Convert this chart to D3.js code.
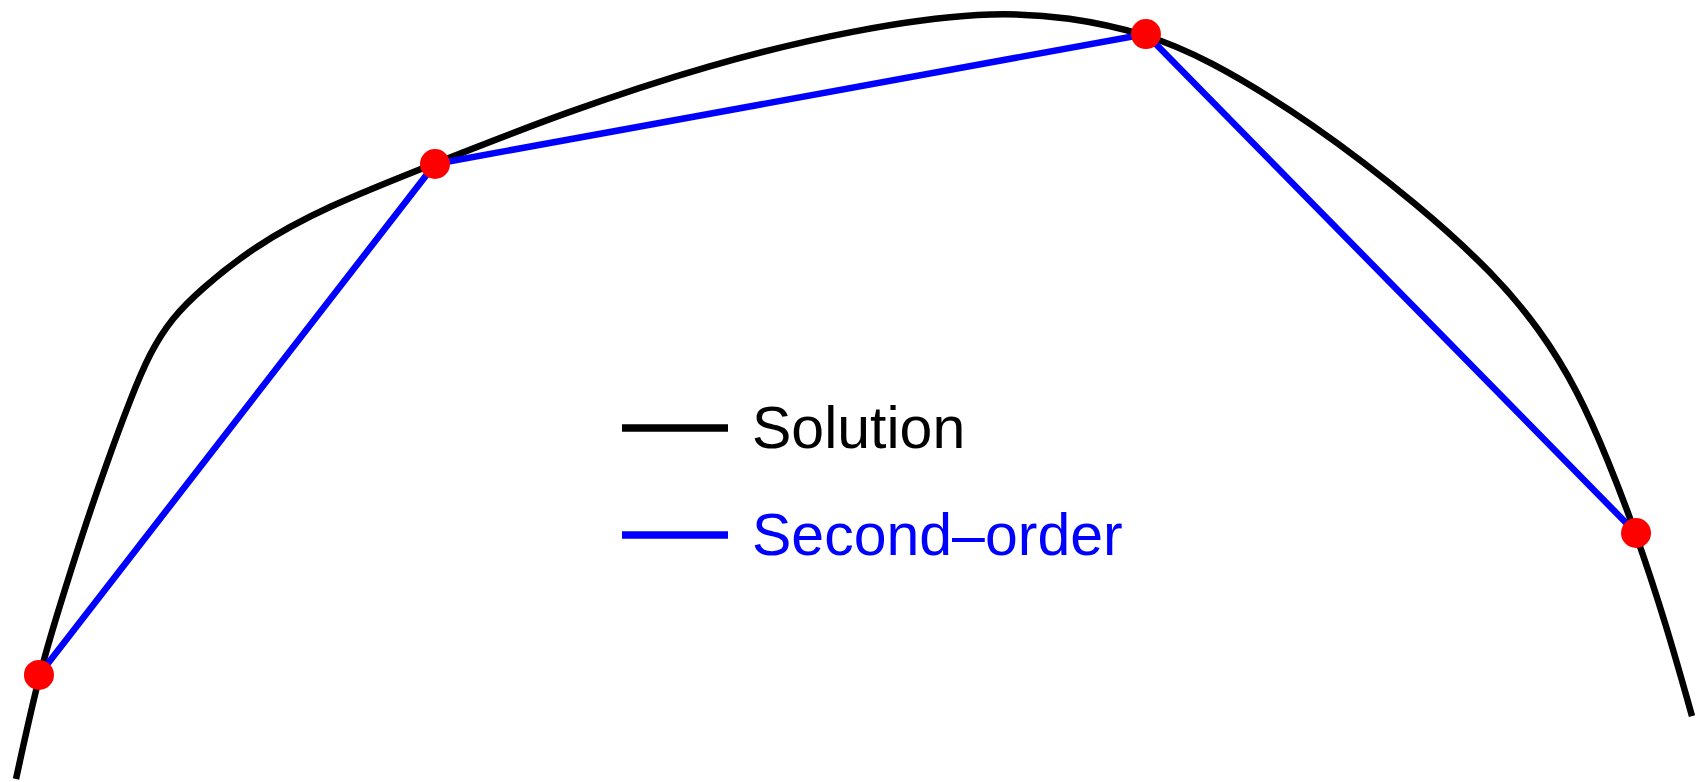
<!DOCTYPE html>
<html>
<head>
<meta charset="utf-8">
<script src="https://cdn.jsdelivr.net/npm/d3@7"></script>
<style>
  html, body { margin: 0; padding: 0; background: #fff; overflow: hidden; }
  svg { display: block; }
</style>
</head>
<body>
<svg id="chart" width="1698" height="782"></svg>
<script>
// Exact solution sampled along the trajectory (x, y)
const solutionX = [0, 1.37, 2.63, 3.94, 5.37, 6.80, 8.00, 9.31, 10.98, 14.14, 18.44, 25.06, 32.64, 41.41, 50.06, 57.82, 62.95, 67.42, 70.88, 77.33, 83.83, 88.13, 90.93, 93.20, 94.99, 96.66, 98.45, 100];
const solutionY = [0.13, 13.77, 22.73, 31.82, 40.91, 49.35, 55.58, 60.00, 63.64, 69.22, 74.42, 80.13, 86.62, 92.99, 97.53, 99.87, 99.09, 96.88, 93.90, 85.45, 74.42, 65.84, 58.57, 50.52, 41.56, 32.08, 20.26, 8.31];

// Second-order scheme: computed steps
const stepX = [1.37, 25.0, 67.42, 96.66];
const stepY = [13.64, 80.0, 96.88, 32.08];

// Legend entries
const legendLabels = ["Solution", "Second\u2013order"];
const legendColors = ["#000000", "#0000ff"];

const svg = d3.select("#chart");

const x = d3.scaleLinear().domain([0, 100]).range([16, 1692]);
const y = d3.scaleLinear().domain([0, 100]).range([780, 10]);

const solution = solutionX.map((v, i) => [v, solutionY[i]]);
const steps = stepX.map((v, i) => [v, stepY[i]]);

const smooth = d3.line()
  .x(d => x(d[0]))
  .y(d => y(d[1]))
  .curve(d3.curveBasis);

const straight = d3.line()
  .x(d => x(d[0]))
  .y(d => y(d[1]));

svg.append("path")
  .datum(solution)
  .attr("d", smooth)
  .attr("fill", "none")
  .attr("stroke", legendColors[0])
  .attr("stroke-width", 6.5);

svg.append("path")
  .datum(steps)
  .attr("d", straight)
  .attr("fill", "none")
  .attr("stroke", legendColors[1])
  .attr("stroke-width", 6.5);

svg.selectAll("circle.step")
  .data(steps)
  .join("circle")
  .attr("class", "step")
  .attr("cx", d => x(d[0]))
  .attr("cy", d => y(d[1]))
  .attr("r", 15)
  .attr("fill", "#ff0000");

// Legend
const legend = svg.append("g").attr("transform", "translate(622,428)");
const rows = legend.selectAll("g.row")
  .data(legendLabels)
  .join("g")
  .attr("class", "row")
  .attr("transform", (d, i) => `translate(0,${i * 107})`);

rows.append("line")
  .attr("x1", 0).attr("x2", 106)
  .attr("y1", 0).attr("y2", 0)
  .attr("stroke", (d, i) => legendColors[i])
  .attr("stroke-width", 7.5);

rows.append("text")
  .attr("x", 130)
  .attr("y", 20)
  .attr("fill", (d, i) => legendColors[i])
  .style("font-family", "'Liberation Sans', Arial, sans-serif")
  .style("font-size", "59px")
  .text(d => d);
</script>
</body>
</html>
